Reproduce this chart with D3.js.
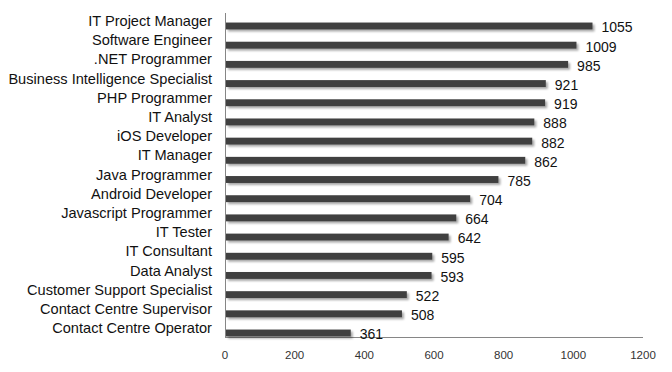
<!DOCTYPE html>
<html>
<head>
<meta charset="utf-8">
<script src="https://cdn.jsdelivr.net/npm/d3@7"></script>
<style>
  body { margin: 0; background: #fff; }
  svg { display: block; font-family: Arial, "Liberation Sans", sans-serif; }
</style>
</head>
<body>
<div id="chart"></div>
<script>
const jobs = ['IT Project Manager', 'Software Engineer', '.NET Programmer', 'Business Intelligence Specialist',
  'PHP Programmer', 'IT Analyst', 'iOS Developer', 'IT Manager', 'Java Programmer', 'Android Developer',
  'Javascript Programmer', 'IT Tester', 'IT Consultant', 'Data Analyst', 'Customer Support Specialist',
  'Contact Centre Supervisor', 'Contact Centre Operator'];
const counts = [1055, 1009, 985, 921, 919, 888, 882, 862, 785, 704, 664, 642, 595, 593, 522, 508, 361];
const xTicks = [0, 200, 400, 600, 800, 1000, 1200];

const width = 672, height = 372;
const plot = {left: 225, right: 643, top: 13, bottom: 337};

const svg = d3.select('#chart').append('svg')
  .attr('width', width).attr('height', height);

// soft shadow under the bars
const defs = svg.append('defs');
const shadow = defs.append('filter').attr('id', 'shadow')
  .attr('x', '-5%').attr('y', '-50%').attr('width', '115%').attr('height', '250%');
shadow.append('feGaussianBlur').attr('in', 'SourceAlpha').attr('stdDeviation', 1.2).attr('result', 'blur');
shadow.append('feOffset').attr('dx', 1.5).attr('dy', 2).attr('result', 'off');
shadow.append('feComponentTransfer').append('feFuncA').attr('type', 'linear').attr('slope', 0.35);
const merge = shadow.append('feMerge');
merge.append('feMergeNode');
merge.append('feMergeNode').attr('in', 'SourceGraphic');

const x = d3.scaleLinear().domain([0, 1200]).range([plot.left, plot.right]);
const y = d3.scaleBand().domain(jobs).range([16.4, 342.6]).paddingInner(0.64).paddingOuter(0.32);

const data = jobs.map((j, i) => ({job: j, value: counts[i]}));

// axes lines
svg.append('line')
  .attr('x1', x(0) + 0.5).attr('x2', x(0) + 0.5)
  .attr('y1', plot.top).attr('y2', plot.bottom)
  .attr('stroke', '#868686');
svg.append('line')
  .attr('x1', x(0)).attr('x2', x(1200))
  .attr('y1', plot.bottom + 0.5).attr('y2', plot.bottom + 0.5)
  .attr('stroke', '#868686');

// x tick labels
svg.append('g').selectAll('text').data(xTicks).join('text')
  .attr('x', d => x(d)).attr('y', 359)
  .attr('text-anchor', 'middle')
  .attr('font-size', 11.5).attr('fill', '#333')
  .text(d => d);

// bars
svg.append('g').selectAll('rect').data(data).join('rect')
  .attr('x', x(0) + 1)
  .attr('y', d => y(d.job))
  .attr('width', d => x(d.value) - x(0) - 1)
  .attr('height', y.bandwidth())
  .attr('fill', '#404040')
  .attr('filter', 'url(#shadow)');

// category labels
svg.append('g').selectAll('text').data(data).join('text')
  .attr('x', 212)
  .attr('y', d => y(d.job) + y.bandwidth() / 2 - 5)
  .attr('dy', '0.35em')
  .attr('text-anchor', 'end')
  .attr('font-size', 14.6).attr('fill', '#111')
  .text(d => d.job);

// value labels
svg.append('g').selectAll('text').data(data).join('text')
  .attr('x', d => x(d.value) + 9)
  .attr('y', d => y(d.job) + y.bandwidth() / 2 + 1.5)
  .attr('dy', '0.35em')
  .attr('font-size', 14).attr('fill', '#111')
  .text(d => d.value);
</script>
</body>
</html>
